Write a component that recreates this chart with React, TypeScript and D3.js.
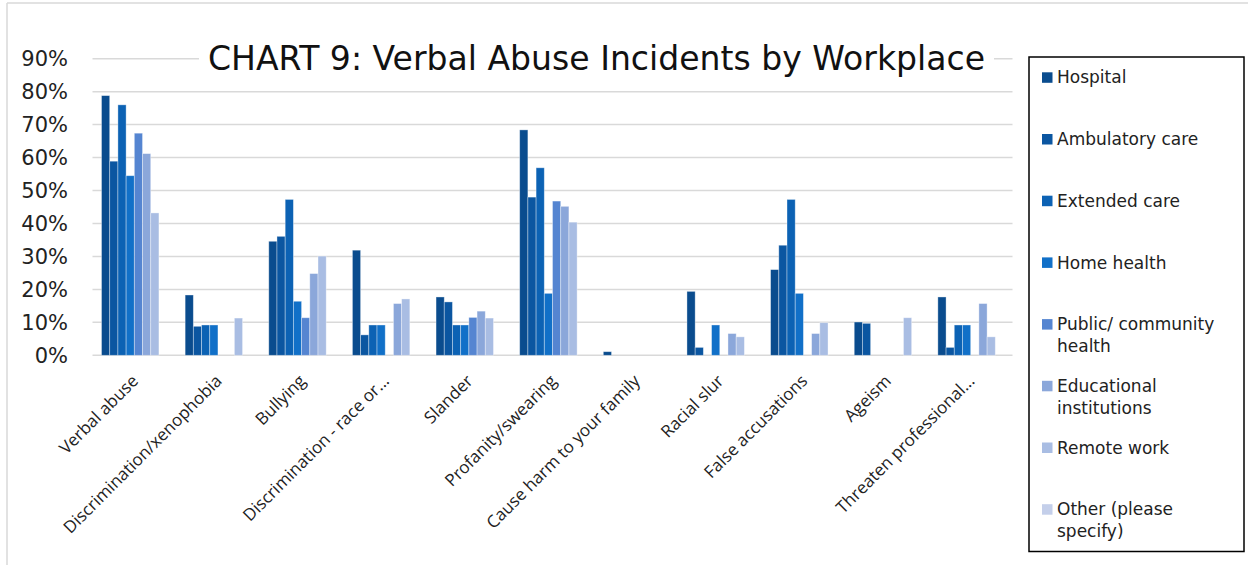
import React from "react";
import * as d3 from "d3";

const categories = [
  "Verbal abuse",
  "Discrimination/xenophobia",
  "Bullying",
  "Discrimination - race or...",
  "Slander",
  "Profanity/swearing",
  "Cause harm to your family",
  "Racial slur",
  "False accusations",
  "Ageism",
  "Threaten professional...",
];

const seriesNames = [
  "Hospital",
  "Ambulatory care",
  "Extended care",
  "Home health",
  "Public/ community health",
  "Educational institutions",
  "Remote work",
  "Other (please specify)",
];

const legendLines = [
  ["Hospital"],
  ["Ambulatory care"],
  ["Extended care"],
  ["Home health"],
  ["Public/ community", "health"],
  ["Educational", "institutions"],
  ["Remote work"],
  ["Other (please", "specify)"],
];

const hospital = [78.8, 18.3, 34.6, 31.9, 17.7, 68.4, 1.1, 19.4, 26.0, 10.1, 17.7];
const ambulatory = [58.9, 8.8, 36.1, 6.2, 16.2, 48.0, 0, 2.4, 33.4, 9.7, 2.4];
const extended = [76.0, 9.2, 47.3, 9.2, 9.2, 56.9, 0, 0, 47.3, 0, 9.2];
const homeHealth = [54.5, 9.2, 16.4, 9.2, 9.2, 18.8, 0, 9.2, 18.8, 0, 9.2];
const publicHealth = [67.4, 0, 11.4, 0, 11.5, 46.8, 0, 0, 0, 0, 0];
const educational = [61.2, 0, 24.8, 15.7, 13.4, 45.2, 0, 6.6, 6.6, 0, 15.7];
const remote = [43.2, 11.3, 30.1, 17.1, 11.3, 40.4, 0, 5.6, 9.9, 11.4, 5.6];
const other = [0, 0, 0, 0, 0, 0, 0, 0, 0, 0, 0];

const seriesValues = [hospital, ambulatory, extended, homeHealth, publicHealth, educational, remote, other];

const colors = ["#0A4C8E", "#0B56A1", "#0C62B4", "#1170C8", "#5585D1", "#8BA7DA", "#A9BDE3", "#C4CFEA"];

const yTicks = [0, 10, 20, 30, 40, 50, 60, 70, 80, 90];

const TITLE = "CHART 9: Verbal Abuse Incidents by Workplace";

export default function App() {
  const W = 1248;
  const H = 565;
  const plotLeft = 92.5;
  const plotRight = 1012.5;
  const y = d3.scaleLinear().domain([0, 90]).range([355.3, 58.7]);
  const x0 = d3.scaleBand<string>().domain(categories).range([plotLeft, plotRight]).padding(0);
  const bw = x0.bandwidth();
  const x1 = d3.scaleBand<string>().domain(seriesNames).range([9, bw - 9]).padding(0);

  const uiFont = "'DejaVu Sans', sans-serif";
  const labelFont = "'Open Sans', sans-serif";

  return (
    <svg
      width={W}
      height={H}
      style={{ position: "fixed", left: 0, top: 0, background: "#fff" }}
    >
      <rect x={0} y={0} width={W} height={H} fill="#fff" />
      <line x1={7} y1={3} x2={W} y2={3} stroke="#d9d9d9" strokeWidth={1.5} />
      <line x1={7} y1={3} x2={7} y2={H} stroke="#d9d9d9" strokeWidth={1.5} />

      {yTicks.map((t) => (
        <g key={t}>
          <line x1={plotLeft} x2={plotRight} y1={y(t)} y2={y(t)} stroke="#d9d9d9" strokeWidth={1.5} />
          <text
            x={68}
            y={y(t)}
            dy="0.36em"
            textAnchor="end"
            fontFamily={uiFont}
            fontSize={21}
            fill="#222"
          >
            {t + "%"}
          </text>
        </g>
      ))}

      {seriesValues.map((vals, si) =>
        vals.map((v, ci) =>
          v > 0 ? (
            <rect
              key={si + "-" + ci}
              x={(x0(categories[ci]) as number) + (x1(seriesNames[si]) as number)}
              y={y(v)}
              width={x1.bandwidth()}
              height={y(0) - y(v)}
              fill={colors[si]}
              stroke="#ffffff"
              strokeOpacity={0.45}
              strokeWidth={0.8}
            />
          ) : null
        )
      )}

      {categories.map((c) => {
        const cx = (x0(c) as number) + bw / 2 + 5;
        const cy = 382;
        return (
          <text
            key={c}
            x={cx}
            y={cy}
            textAnchor="end"
            transform={`rotate(-45 ${cx} ${cy})`}
            fontFamily={labelFont}
            fontSize={17}
            fill="#222"
          >
            {c}
          </text>
        );
      })}

      <rect x={199} y={38} width={795} height={44} fill="#fff" />
      <text
        x={208}
        y={70}
        fontFamily={uiFont}
        fontSize={33}
        textLength={777}
        lengthAdjust="spacingAndGlyphs"
        fill="#111"
      >
        {TITLE}
      </text>

      <rect x={1029} y={57} width={215} height={494.5} fill="#fff" stroke="#000" strokeWidth={1.5} />
      {legendLines.map((lines, i) => {
        const cy = 77.3 + i * 61.7;
        return (
          <g key={i}>
            <rect x={1042} y={cy - 5} width={10.5} height={10.5} fill={colors[i]} />
            {lines.map((ln, li) => (
              <text
                key={li}
                x={1057}
                y={cy + li * 21.8}
                dy="0.36em"
                fontFamily={uiFont}
                fontSize={17}
                fill="#222"
              >
                {ln}
              </text>
            ))}
          </g>
        );
      })}
    </svg>
  );
}
